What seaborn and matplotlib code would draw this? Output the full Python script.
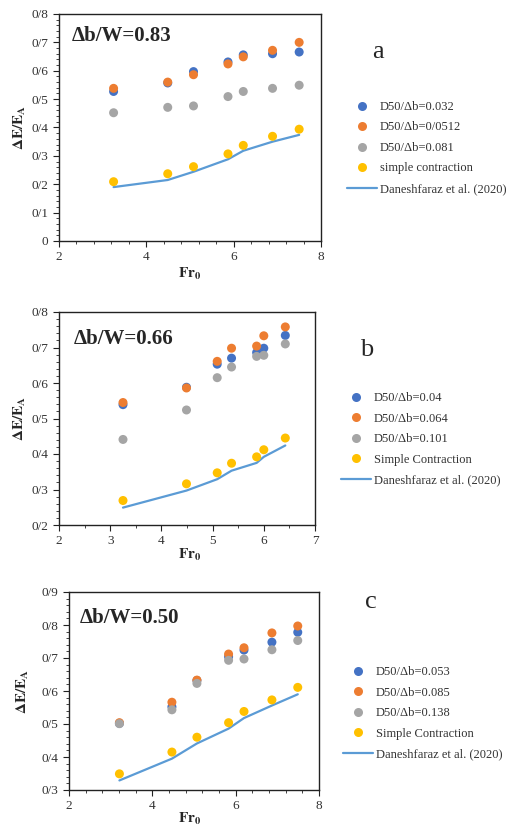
import matplotlib

matplotlib.use("Agg")
import matplotlib.pyplot as plt
import pandas as pd
import seaborn as sns
from matplotlib.lines import Line2D
from matplotlib.ticker import AutoMinorLocator, FuncFormatter, MultipleLocator

# panel a  (Δb/W = 0.83)
fr_a = [3.25, 4.49, 5.08, 5.87, 6.22, 6.89, 7.50]
blue_a = [0.527, 0.557, 0.597, 0.631, 0.656, 0.660, 0.666]
orange_a = [0.538, 0.560, 0.586, 0.624, 0.649, 0.672, 0.700]
gray_a = [0.452, 0.471, 0.476, 0.509, 0.527, 0.538, 0.549]
yellow_a = [0.209, 0.237, 0.262, 0.307, 0.337, 0.369, 0.394]
line_a = [0.190, 0.215, 0.244, 0.288, 0.318, 0.350, 0.374]
labels_a = ["D50/Δb=0.032", "D50/Δb=0/0512", "D50/Δb=0.081", "simple contraction"]

# panel b  (Δb/W = 0.66)
fr_b = [3.25, 4.49, 5.09, 5.37, 5.86, 6.00, 6.42]
blue_b = [0.539, 0.588, 0.653, 0.670, 0.686, 0.698, 0.734]
orange_b = [0.545, 0.586, 0.661, 0.698, 0.704, 0.733, 0.758]
gray_b = [0.441, 0.524, 0.615, 0.645, 0.675, 0.678, 0.710]
yellow_b = [0.269, 0.316, 0.347, 0.374, 0.392, 0.412, 0.445]
line_b = [0.249, 0.297, 0.329, 0.353, 0.375, 0.392, 0.424]
labels_b = ["D50/Δb=0.04", "D50/Δb=0.064", "D50/Δb=0.101", "Simple Contraction"]

# panel c  (Δb/W = 0.50)
fr_c = [3.21, 4.47, 5.07, 5.83, 6.20, 6.87, 7.49]
blue_c = [0.502, 0.552, 0.632, 0.704, 0.724, 0.748, 0.778]
orange_c = [0.504, 0.566, 0.633, 0.712, 0.731, 0.776, 0.797]
gray_c = [0.501, 0.543, 0.623, 0.693, 0.697, 0.725, 0.753]
yellow_c = [0.349, 0.415, 0.460, 0.504, 0.538, 0.573, 0.611]
line_c = [0.329, 0.395, 0.441, 0.486, 0.518, 0.556, 0.590]
labels_c = ["D50/Δb=0.053", "D50/Δb=0.085", "D50/Δb=0.138", "Simple Contraction"]

line_label = "Daneshfaraz et al. (2020)"
colors = ["#4472C4", "#ED7D31", "#A5A5A5", "#FFC000"]
line_color = "#5B9BD5"

sns.set_style("ticks")
plt.rcParams["font.family"] = ["Liberation Serif", "DejaVu Serif"]
plt.rcParams["mathtext.fontset"] = "stix"

W, H = 513, 827


def slash_fmt(v, _pos):
    if abs(v) < 1e-9:
        return "0"
    return "0/" + f"{v:.1f}".split(".")[1]


def draw_panel(fig, box, fr, series, line, labels, xlim, ylim, xstep,
               title, letter, title_xy, letter_xy, leg_xy, xlabel_y, ylabel_x):
    left, top, right, bottom = box
    ax = fig.add_axes([left / W, 1 - bottom / H, (right - left) / W, (bottom - top) / H])
    rows = []
    for vals, lab in zip(series, labels):
        rows += [{"fr": x, "ratio": y, "series": lab} for x, y in zip(fr, vals)]
    df = pd.DataFrame(rows)
    sns.lineplot(x=fr, y=line, color=line_color, lw=1.6, ax=ax)
    sns.scatterplot(data=df, x="fr", y="ratio", hue="series",
                    palette=dict(zip(labels, colors)), s=42, edgecolor="none",
                    ax=ax, legend=False, zorder=3)
    ax.set_xlim(*xlim)
    ax.set_ylim(*ylim)
    ax.xaxis.set_major_locator(MultipleLocator(xstep))
    ax.yaxis.set_major_locator(MultipleLocator(0.1))
    ax.xaxis.set_minor_locator(AutoMinorLocator(5 if xstep == 2 else 2))
    ax.yaxis.set_minor_locator(AutoMinorLocator(5))
    ax.yaxis.set_major_formatter(FuncFormatter(slash_fmt))
    ax.tick_params(which="major", length=4, width=0.8, labelsize=9.5,
                   colors="#222222", labelcolor="#333333")
    ax.tick_params(which="minor", length=2.5, width=0.6, colors="#222222")
    for sp in ax.spines.values():
        sp.set_visible(True)
        sp.set_color("#222222")
        sp.set_linewidth(1.0)
    ax.set_xlabel("")
    ax.set_ylabel("")

    fig.text(ylabel_x / W, 1 - (top + bottom) / 2 / H, r"$\mathbf{\Delta E/E_A}$",
             fontsize=11, rotation=90, ha="center", va="center")
    fig.text(190 / W, 1 - xlabel_y / H, r"$\mathbf{Fr_0}$", fontsize=11,
             ha="center", va="center")
    fig.text(title_xy[0] / W, 1 - title_xy[1] / H, title, fontsize=15,
             fontweight="bold", ha="left", va="center")
    fig.text(letter_xy[0] / W, 1 - letter_xy[1] / H, letter, fontsize=19,
             ha="center", va="center")

    handles = [Line2D([], [], ls="none", marker="o", ms=6.5, color=c, mec="none")
               for c in colors]
    handles.append(Line2D([], [], color=line_color, lw=1.6))
    fig.legend(handles, labels + [line_label], loc="upper left",
               bbox_to_anchor=(leg_xy[0] / W, 1 - leg_xy[1] / H),
               frameon=False, fontsize=9, handlelength=2.4, handletextpad=0.2,
               labelspacing=0.68, borderaxespad=0, borderpad=0, labelcolor="#333333")
    return ax


fig = plt.figure(figsize=(W / 100, H / 100), dpi=100)

draw_panel(fig, (59, 14, 321, 241),
           fr_a, [blue_a, orange_a, gray_a, yellow_a], line_a, labels_a,
           (2, 8), (0, 0.8), 2, "Δb/W=0.83", "a",
           (72, 36), (378, 52), (347, 101), 274, 20)

draw_panel(fig, (59, 312, 315, 525),
           fr_b, [blue_b, orange_b, gray_b, yellow_b], line_b, labels_b,
           (2, 7), (0.2, 0.8), 1, "Δb/W=0.66", "b",
           (74, 339), (367, 350), (341, 392), 555, 20)

draw_panel(fig, (69, 592, 319, 790),
           fr_c, [blue_c, orange_c, gray_c, yellow_c], line_c, labels_c,
           (2, 8), (0.3, 0.9), 2, "Δb/W=0.50", "c",
           (80, 618), (371, 602), (343, 666), 819, 23)

fig.savefig("out.png", dpi=100)
